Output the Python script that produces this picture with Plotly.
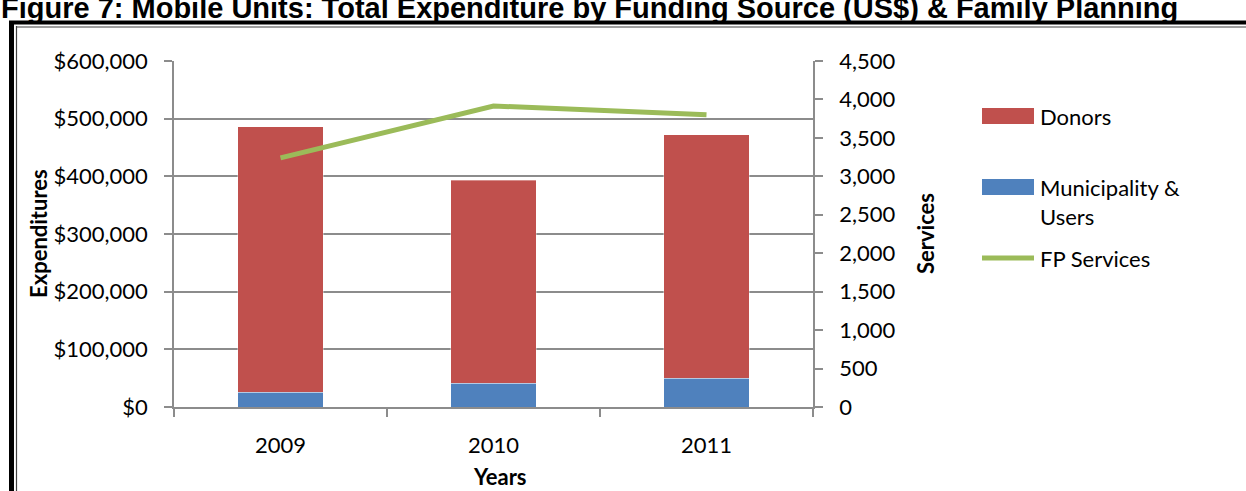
import plotly.graph_objects as go

# Expenditure by funding source (US$) and family-planning services, mobile units
years = ["2009", "2010", "2011"]
municipality_users = [26000, 41000, 49500]
donors = [460000, 352500, 423000]
fp_services = [3240, 3915, 3800]

expenditure_ticks = [0, 100000, 200000, 300000, 400000, 500000, 600000]
expenditure_labels = ["$0", "$100,000", "$200,000", "$300,000", "$400,000", "$500,000", "$600,000"]
services_ticks = [0, 500, 1000, 1500, 2000, 2500, 3000, 3500, 4000, 4500]
services_labels = ["0", "500", "1,000", "1,500", "2,000", "2,500", "3,000", "3,500", "4,000", "4,500"]

RED = "#C0504D"
BLUE = "#4F81BD"
GREEN = "#9BBB59"
GRID = "#8C8C8C"
FONT = "Lato"
FS = 22

W, H = 1246, 491
L, R, T, B = 174, 813, 61, 407  # plot-area edges in pixels


def fx(px):
    return (px - L) / (R - L)


def fy(py):
    return (B - py) / (B - T)


fig = go.Figure()
fig.add_trace(go.Bar(
    x=years, y=municipality_users, name="Municipality &<br>Users",
    marker=dict(color=BLUE, line=dict(color="rgba(255,255,255,0.35)", width=1)),
    yaxis="y", showlegend=False,
))
fig.add_trace(go.Bar(
    x=years, y=donors, name="Donors",
    marker=dict(color=RED, line=dict(color="rgba(255,255,255,0.35)", width=1)),
    yaxis="y", showlegend=False,
))
fig.add_trace(go.Scatter(
    x=years, y=fp_services, name="FP Services", mode="lines",
    line=dict(color=GREEN, width=5), yaxis="y2", showlegend=False,
))

fig.update_layout(
    width=W, height=H,
    margin=dict(l=L, r=W - R, t=T, b=H - B),
    paper_bgcolor="white", plot_bgcolor="white",
    barmode="stack", bargap=0.6,
    font=dict(family=FONT, size=FS, color="black"),
    xaxis=dict(
        type="category", tickson="boundaries", ticks="outside", ticklen=8,
        tickcolor=GRID, tickwidth=1.5, showline=True, linecolor=GRID, linewidth=1.5,
        showgrid=False, ticklabelstandoff=18,
    ),
    yaxis=dict(
        range=[0, 600000], tickvals=expenditure_ticks, ticktext=expenditure_labels,
        ticks="outside", ticklen=8, tickcolor=GRID, tickwidth=1.5,
        showline=True, linecolor=GRID, linewidth=1.5,
        showgrid=True, gridcolor=GRID, gridwidth=1.5, zeroline=False,
        ticklabelstandoff=12,
    ),
    yaxis2=dict(
        range=[0, 4500], tickvals=services_ticks, ticktext=services_labels,
        overlaying="y", side="right",
        ticks="outside", ticklen=8, tickcolor=GRID, tickwidth=1.5,
        showline=True, linecolor=GRID, linewidth=1.5,
        showgrid=False, zeroline=False, ticklabelstandoff=12,
    ),
)

ann = []
# Figure caption, running across the top edge of the page
ann.append(dict(
    text="<b>Figure 7: Mobile Units: Total Expenditure by Funding Source (US$) &amp; Family Planning</b>",
    xref="paper", yref="paper", x=fx(-1), y=fy(26), xanchor="left", yanchor="bottom",
    showarrow=False, font=dict(family="Liberation Sans", size=29, color="black"),
))
# Axis titles
ann.append(dict(text="<b>Expenditures</b>", xref="paper", yref="paper",
                x=fx(38), y=fy(234), textangle=-90, showarrow=False,
                xanchor="center", yanchor="middle"))
ann.append(dict(text="<b>Services</b>", xref="paper", yref="paper",
                x=fx(925), y=fy(234), textangle=-90, showarrow=False,
                xanchor="center", yanchor="middle"))
ann.append(dict(text="<b>Years</b>", xref="paper", yref="paper",
                x=fx(500), y=fy(476), showarrow=False,
                xanchor="center", yanchor="middle"))

shapes = []
# Legend entries
legend_rows = [
    ("rect", RED, "Donors", 116),
    ("rect", BLUE, "Municipality &amp;<br>Users", 187),
    ("line", GREEN, "FP Services", 258),
]
for kind, color, label, cy in legend_rows:
    if kind == "rect":
        shapes.append(dict(type="rect", xref="paper", yref="paper",
                           x0=fx(982), x1=fx(1034), y0=fy(cy - 8), y1=fy(cy + 8),
                           fillcolor=color, line=dict(width=0)))
    else:
        shapes.append(dict(type="line", xref="paper", yref="paper",
                           x0=fx(982), x1=fx(1034), y0=fy(cy), y1=fy(cy),
                           line=dict(color=color, width=5)))
    ann.append(dict(text=label, xref="paper", yref="paper", x=fx(1038), y=fy(cy - 15),
                    xanchor="left", yanchor="top", showarrow=False, align="left"))

# Page frame
shapes.append(dict(type="line", xref="paper", yref="paper",
                   x0=fx(11.5), x1=fx(11.5), y0=fy(21), y1=fy(495),
                   line=dict(color="black", width=5)))
shapes.append(dict(type="line", xref="paper", yref="paper",
                   x0=fx(16.5), x1=fx(16.5), y0=fy(26), y1=fy(495),
                   line=dict(color="#404040", width=1.2)))
shapes.append(dict(type="line", xref="paper", yref="paper",
                   x0=fx(9), x1=fx(1250), y0=fy(22.5), y1=fy(22.5),
                   line=dict(color="black", width=4)))
shapes.append(dict(type="line", xref="paper", yref="paper",
                   x0=fx(16), x1=fx(1250), y0=fy(27), y1=fy(27),
                   line=dict(color="#404040", width=1.2)))

fig.update_layout(annotations=ann, shapes=shapes)
fig.write_html("out.html")
